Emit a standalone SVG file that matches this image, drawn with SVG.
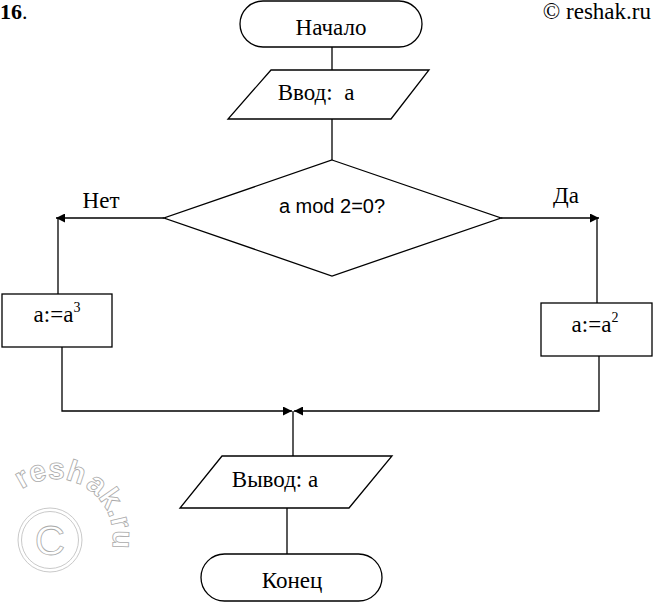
<svg xmlns="http://www.w3.org/2000/svg" width="653" height="602" viewBox="0 0 653 602">
<style>
.s{fill:#fff;stroke:#000;stroke-width:1.3}
.c{fill:none;stroke:#000;stroke-width:1.3}
.t{font-family:"Liberation Serif","Times New Roman",serif;font-size:23px;fill:#000;text-anchor:middle}
.a{font-family:"Liberation Sans",Arial,sans-serif;font-size:20px;fill:#000;text-anchor:middle}
.w{font-family:"Liberation Sans",Arial,sans-serif;fill:#fff;stroke:#aaa;stroke-width:0.8}
.wa{font-size:30px;font-weight:bold}
</style>
<defs>
<marker id="ah" viewBox="0 0 10 10" refX="10" refY="5" markerWidth="10" markerHeight="9" markerUnits="userSpaceOnUse" orient="auto">
<path d="M0,0 L10,5 L0,10 Z" fill="#000"/>
</marker>
<path id="arc" d="M 21.7,489.5 A 58 58 0 0 1 111,552"/>
</defs>
<rect width="653" height="602" fill="#fff"/>
<g id="watermark">
<circle cx="50" cy="540" r="32" fill="none" stroke="#bbb" stroke-width="0.8"/>
<circle cx="50" cy="540" r="28.5" fill="none" stroke="#bbb" stroke-width="0.8"/>
<text class="w" x="50" y="555" font-size="42" text-anchor="middle">C</text>
<text class="w wa"><textPath href="#arc">resh</textPath></text>
<text class="w wa"><textPath href="#arc" startOffset="66">ak.ru</textPath></text>
</g>
<g id="header">
<text x="0" y="19" font-family="Liberation Serif,serif" font-size="22" font-weight="bold">16<tspan font-weight="normal">.</tspan></text>
<text x="651" y="19" font-family="Liberation Serif,serif" font-size="23" text-anchor="end">© reshak.ru</text>
</g>
<g id="connectors">
<line class="c" x1="332" y1="47" x2="332" y2="70"/>
<line class="c" x1="332" y1="119" x2="332" y2="160"/>
<line class="c" x1="164" y1="218" x2="56" y2="218" marker-end="url(#ah)"/>
<line class="c" x1="58" y1="218" x2="58" y2="294"/>
<line class="c" x1="501" y1="218" x2="599" y2="218" marker-end="url(#ah)"/>
<line class="c" x1="597" y1="218" x2="597" y2="303"/>
<polyline class="c" points="62,347 62,411 292,411" marker-end="url(#ah)"/>
<polyline class="c" points="599,356 599,411 294,411" marker-end="url(#ah)"/>
<line class="c" x1="293" y1="411" x2="293" y2="456"/>
<line class="c" x1="287" y1="508" x2="287" y2="554"/>
</g>
<g id="start">
<rect class="s" x="240" y="1" width="182" height="46" rx="23" ry="23"/>
<text class="t" x="331" y="35">Начало</text>
</g>
<g id="input">
<polygon class="s" points="271,70 429,70 391,119 228,119"/>
<text class="t" x="316" y="100" xml:space="preserve">Ввод:  a</text>
</g>
<g id="decision">
<polygon class="s" points="332,160 501,218 332,276 164,218"/>
<text class="a" x="332" y="213">a mod 2=0?</text>
</g>
<g id="label-no"><text class="t" x="101" y="208">Нет</text></g>
<g id="label-yes"><text class="t" x="566" y="203">Да</text></g>
<g id="cube">
<rect class="s" x="2" y="294" width="110" height="53"/>
<text class="t" x="57" y="322">a:=a<tspan font-size="14" dy="-10">3</tspan></text>
</g>
<g id="square">
<rect class="s" x="541" y="303" width="111" height="53"/>
<text class="t" x="595" y="332">a:=a<tspan font-size="14" dy="-10">2</tspan></text>
</g>
<g id="output">
<polygon class="s" points="222,456 392,456 349,508 180,508"/>
<text class="t" x="275" y="487">Вывод: a</text>
</g>
<g id="end">
<rect class="s" x="201" y="554" width="181" height="47" rx="23.5" ry="23.5"/>
<text class="t" x="292" y="588">Конец</text>
</g>
</svg>
